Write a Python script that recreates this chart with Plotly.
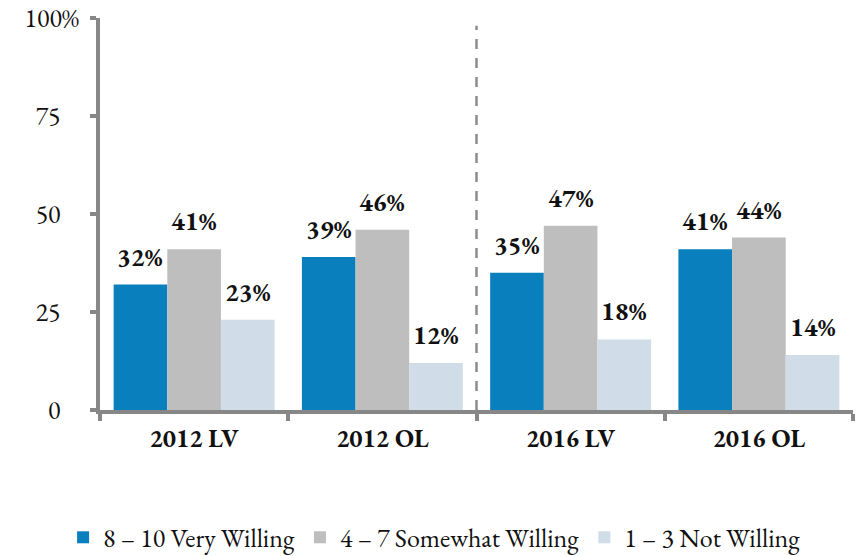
import plotly.graph_objects as go

categories = ["2012 LV", "2012 OL", "2016 LV", "2016 OL"]
very_willing = [32, 39, 35, 41]
somewhat_willing = [41, 46, 47, 44]
not_willing = [23, 12, 18, 14]

series_names = ["8 – 10 Very Willing", "4 – 7 Somewhat Willing", "1 – 3 Not Willing"]
series_values = [very_willing, somewhat_willing, not_willing]
series_colors = ["#0A7FBD", "#BEBEBE", "#D0DDE8"]

y_tick_vals = [0, 25, 50, 75, 100]
y_tick_text = ["0\u2002\u00a0", "25\u2002\u00a0", "50\u2002\u00a0", "75\u2002\u00a0", "100%"]

FONT = "Garamond, 'EB Garamond', 'Liberation Serif', 'DejaVu Serif', serif"
AXIS_GREY = "#878787"

W, H = 861, 556
M_L, M_R, M_T, M_B = 100, 8, 18, 146
BARGAP = 0.145

fig = go.Figure()
for name, vals, color in zip(series_names, series_values, series_colors):
    fig.add_trace(go.Bar(
        x=categories,
        y=vals,
        name=name,
        marker=dict(color=color, line=dict(width=0)),
    ))

# value labels sitting a little above each bar
plot_w = W - M_L - M_R
cat_w = plot_w / len(categories)
bar_w = cat_w * (1 - BARGAP) / len(series_values)
for i, vals in enumerate(series_values):
    shift = (i - (len(series_values) - 1) / 2) * bar_w
    for cat, v in zip(categories, vals):
        fig.add_annotation(
            x=cat, y=v, xref="x", yref="y",
            text=f"{v}%", showarrow=False,
            xanchor="center", yanchor="bottom",
            xshift=shift, yshift=9,
            font=dict(family=FONT, size=26, color="#111111", weight="bold"),
        )

# dashed separator between the 2012 and 2016 groups
fig.add_shape(
    type="line", xref="x", yref="y",
    x0=1.5, x1=1.5, y0=0, y1=98,
    line=dict(color="#8C8C8C", width=2.5, dash="10px,9px"),
)

fig.update_layout(
    width=W, height=H,
    margin=dict(l=M_L, r=M_R, t=M_T, b=M_B, autoexpand=False),
    paper_bgcolor="white",
    plot_bgcolor="white",
    barmode="group",
    bargap=BARGAP,
    bargroupgap=0,
    font=dict(family=FONT, size=26, color="#111111"),
    showlegend=True,
    legend=dict(
        orientation="h",
        x=-0.049, xanchor="left",
        y=-0.325, yanchor="middle",
        font=dict(family=FONT, size=26, color="#111111"),
        itemwidth=30,
        traceorder="normal",
    ),
)

fig.update_xaxes(
    type="category",
    showline=True, linecolor=AXIS_GREY, linewidth=4,
    ticks="outside", tickson="boundaries", ticklen=7, tickwidth=4, tickcolor=AXIS_GREY,
    tickfont=dict(family=FONT, size=25, color="#111111", weight="bold"),
    ticklabelstandoff=3,
    showgrid=False, zeroline=False,
)

fig.update_yaxes(
    range=[0, 100],
    tickvals=y_tick_vals, ticktext=y_tick_text,
    showline=True, linecolor=AXIS_GREY, linewidth=4,
    ticks="outside", ticklen=6, tickwidth=4, tickcolor=AXIS_GREY,
    tickfont=dict(family=FONT, size=26, color="#111111"),
    ticklabelstandoff=6,
    showgrid=False, zeroline=False,
)

fig.write_html("out.html")
